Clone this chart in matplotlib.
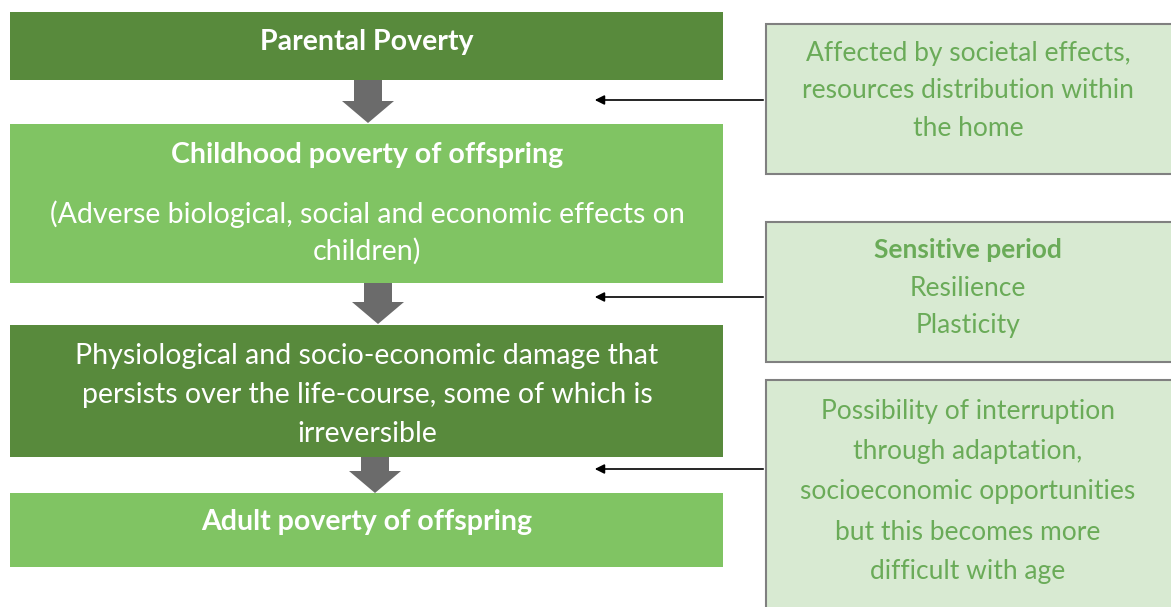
import matplotlib.pyplot as plt
from matplotlib.patches import Rectangle, FancyArrow

plt.rcParams['font.family'] = ['Lato', 'DejaVu Sans']

# left column texts (title line, plain lines)
left_titles = ["Parental Poverty", "Childhood poverty of offspring", "", "Adult poverty of offspring"]
left_lines = [[], ["(Adverse biological, social and economic effects on", "children)"],
              ["Physiological and socio-economic damage that",
               "persists over the life-course, some of which is",
               "irreversible"], []]
# right column texts
right_titles = ["", "Sensitive period", ""]
right_lines = [["Affected by societal effects,", "resources distribution within", "the home"],
               ["Resilience", "Plasticity"],
               ["Possibility of interruption", "through adaptation,",
                "socioeconomic opportunities", "but this becomes more",
                "difficult with age"]]

dark = "#588a3c"
light = "#80c463"
pale = "#d8ead2"
txtgreen = "#6aab58"

fig = plt.figure(figsize=(11.71, 6.07), dpi=100)
ax = fig.add_axes([0, 0, 1, 1])
ax.set_xlim(0, 1171)
ax.set_ylim(607, 0)
ax.axis("off")

# left boxes: (top, bottom, colour, y of each text line)
lboxes = [(12, 80, dark, [42]),
          (124, 283, light, [155, 214, 251]),
          (325, 457, dark, [356, 395, 434]),
          (493, 567, light, [522])]
for i, (t, b, c, ys) in enumerate(lboxes):
    ax.add_patch(Rectangle((10, t), 713, b - t, facecolor=c, edgecolor="none"))
    lines = ([left_titles[i]] if left_titles[i] else []) + left_lines[i]
    for k, (s, y) in enumerate(zip(lines, ys)):
        bold = bool(left_titles[i]) and k == 0
        ax.text(367, y, s, color="white", fontsize=20.5, ha="center", va="center",
                fontweight="bold" if bold else "normal")

# grey block arrows
for xc, y0, y1 in [(368, 80, 123), (378, 283, 324), (375, 457, 493)]:
    ax.add_patch(FancyArrow(xc, y0, 0, y1 - y0, width=28, head_width=52,
                            head_length=22, length_includes_head=True,
                            facecolor="#6b6b6b", edgecolor="none"))

# right boxes
rboxes = [(24, 174, [53, 91, 129]),
          (222, 362, [250, 288, 326]),
          (380, 620, [411, 452, 492, 532, 572])]
for i, (t, b, ys) in enumerate(rboxes):
    ax.add_patch(Rectangle((766, t), 420, b - t, facecolor=pale, edgecolor="#808080", lw=1.5))
    lines = ([right_titles[i]] if right_titles[i] else []) + right_lines[i]
    for k, (s, y) in enumerate(zip(lines, ys)):
        bold = bool(right_titles[i]) and k == 0
        ax.text(968, y, s, color=txtgreen, fontsize=19, ha="center", va="center",
                fontweight="bold" if bold else "normal")

# thin black arrows
for y in [100, 297, 469]:
    ax.annotate("", xy=(592, y), xytext=(766, y),
                arrowprops=dict(arrowstyle="-|>", color="black", lw=1.2, mutation_scale=14))

fig.savefig("out.png", dpi=100)
